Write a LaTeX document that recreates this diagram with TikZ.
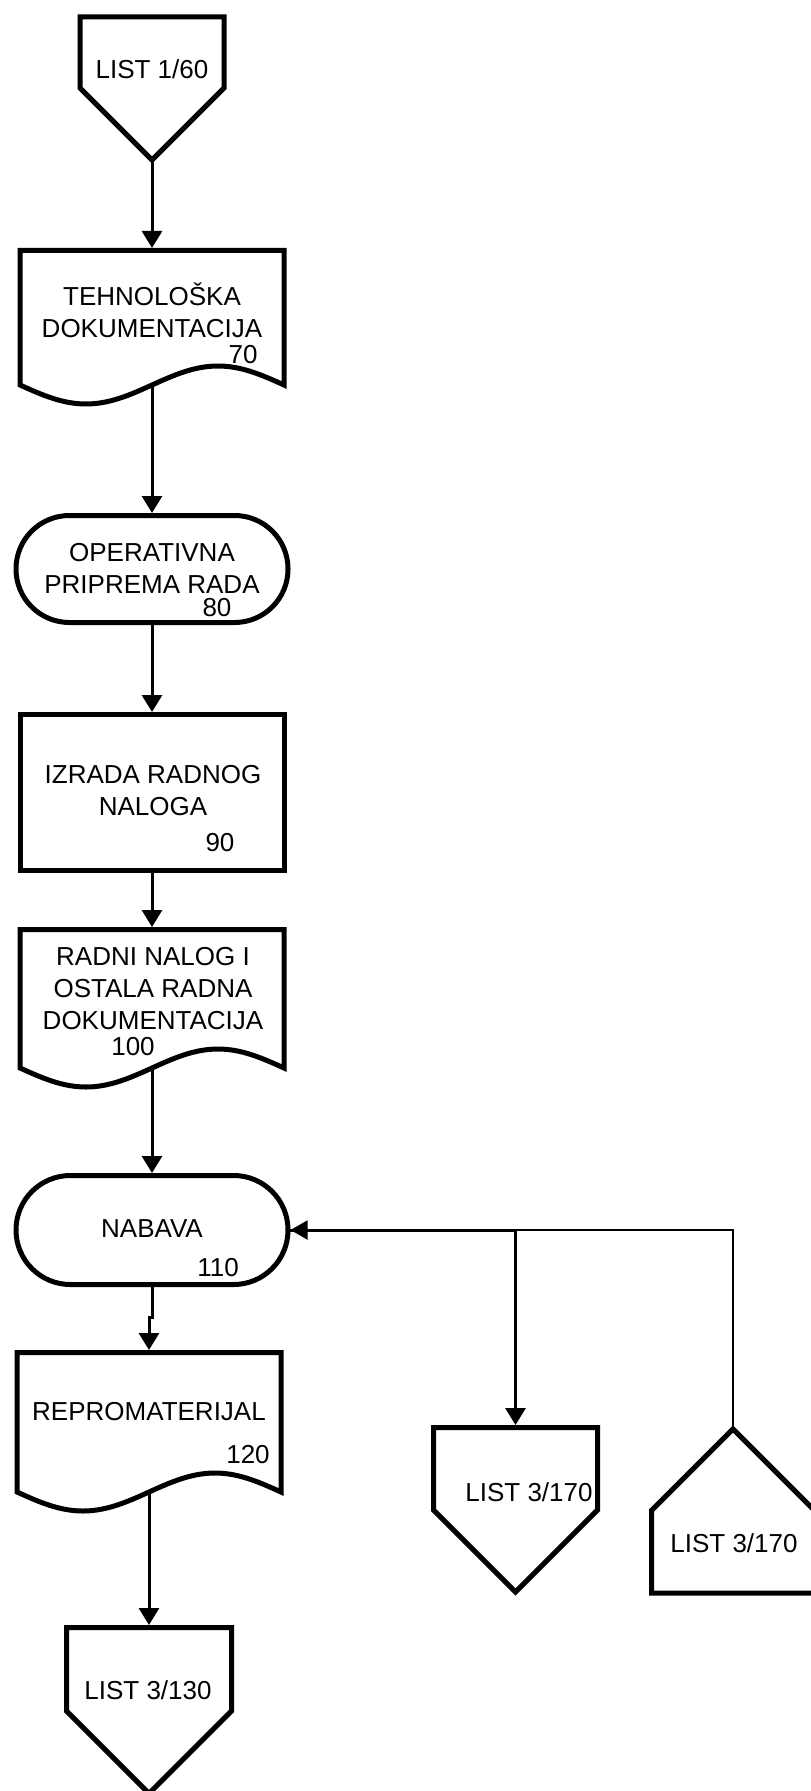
\documentclass[tikz,border=0pt]{standalone}
\usepackage{fontspec}
\setmainfont{Liberation Sans}
\usetikzlibrary{arrows.meta,calc}

\tikzset{
  shapeline/.style={line width=2.5pt, line join=miter},
  flow/.style={line width=1.5pt, -{Triangle[length=8.5pt,width=10pt]}, shorten >=1.25pt},
  thinflow/.style={line width=1pt, -{Triangle[length=8.5pt,width=9.5pt]}, shorten >=1.25pt},
  box/.style 2 args={inner sep=0pt, outer sep=0pt, minimum width=#1, minimum height=#2},
  lbl/.style={align=center, inner sep=0pt, font=\fontsize{13}{16}\selectfont}
}

% outlines drawn on the invisible box nodes
\newcommand{\offdown}[2]{\draw[shapeline] (#1.south) -- ++(-#2,-#2) -- (#1.north west) -- (#1.north east) -- ($(#1.south)+(#2,-#2)$) -- cycle;}
\newcommand{\offup}[2]{\draw[shapeline] (#1.north) -- ++(#2,#2) -- (#1.south east) -- (#1.south west) -- ($(#1.north)+(-#2,#2)$) -- cycle;}
\newcommand{\docshape}[1]{\draw[shapeline] (#1.south west) sin ++(66,19) cos ++(66,-19) sin ++(66,-19) cos ++(66,19) -- (#1.north east) -- (#1.north west) -- cycle;}
\newcommand{\termshape}[2]{\draw[shapeline, rounded corners=#2] (#1.south west) rectangle (#1.north east);}

\begin{document}
\begin{tikzpicture}[x=0.5pt,y=-0.5pt]
\useasboundingbox (0,0) rectangle (810,1791);

% main column
\node[box={72pt}{71.5pt}] (out60) at (152,88.5) {};
\offdown{out60}{72}
\node[lbl] (out60t) at (152,69) {LIST 1/60};

\node[box={132pt}{67.25pt}] (doc70) at (152,317.75) {};
\docshape{doc70}
\node[lbl] (doc70t) at (152,310) {TEHNOLOŠKA\\DOKUMENTACIJA};
\node[lbl] (doc70n) at (243,355) {70};

\node[box={136pt}{53.5pt}] (term80) at (152,569) {};
\termshape{term80}{26.7pt}
\node[lbl] (term80t) at (152,568) {OPERATIVNA\\PRIPREMA RADA};
\node[lbl] (term80n) at (217,608) {80};

\node[box={132pt}{78pt}] (rect90) at (152,792.5) {};
\draw[shapeline] (rect90.south west) rectangle (rect90.north east);
\node[lbl] (rect90t) at (153,791) {IZRADA RADNOG\\NALOGA};
\node[lbl] (rect90n) at (220,843) {90};

\node[box={132pt}{69.25pt}] (doc100) at (152,998.75) {};
\docshape{doc100}
\node[lbl] (doc100t) at (153,989) {RADNI NALOG I\\OSTALA RADNA\\DOKUMENTACIJA};
\node[lbl] (doc100n) at (133,1047) {100};

\node[box={136pt}{54.5pt}] (term110) at (152,1230) {};
\termshape{term110}{27.2pt}
\node[lbl] (term110t) at (152,1229) {NABAVA};
\node[lbl] (term110n) at (218,1268) {110};

\node[box={132pt}{69.75pt}] (doc120) at (149,1422.25) {};
\docshape{doc120}
\node[lbl] (doc120t) at (149,1412) {REPROMATERIJAL};
\node[lbl] (doc120n) at (248,1455) {120};

\node[box={82.5pt}{83pt}] (out130) at (149,1710.5) {};
\offdown{out130}{82.5}
\node[lbl] (out130t) at (148,1690) {LIST 3/130};

% right side connectors
\node[box={82pt}{82.25pt}] (out170) at (515.5,1509.75) {};
\offdown{out170}{82}
\node[lbl] (out170t) at (529,1492) {LIST 3/170};

\node[box={81.5pt}{82pt}] (in170) at (733,1511) {};
\offup{in170}{81.5}
\node[lbl] (in170t) at (734,1543) {LIST 3/170};

% flow lines
\draw[flow] (out60.south) -- (doc70.north);
\draw[flow] (doc70.south) -- (term80.north);
\draw[flow] (term80.south) -- (rect90.north);
\draw[flow] (rect90.south) -- (doc100.north);
\draw[flow] (doc100.south) -- (term110.north);
\draw[flow] (term110.south) -- ++(0,33) -| (doc120.north);
\draw[flow] (doc120.south) -- (out130.north);
\draw[thinflow] (in170.north) |- (term110.east);
\draw[flow] (term110.east) -| (out170.north);
\end{tikzpicture}
\end{document}
